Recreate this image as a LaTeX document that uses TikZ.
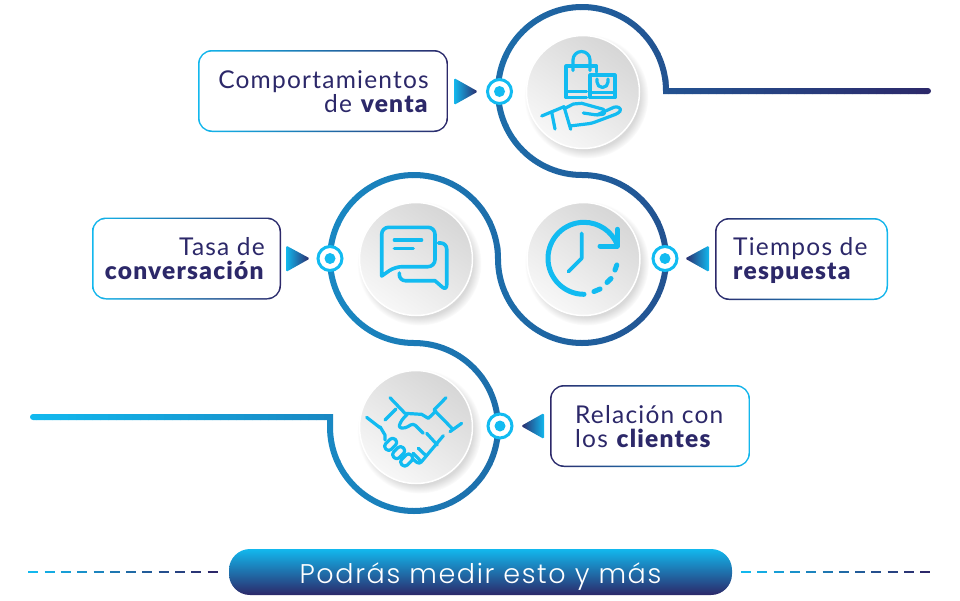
\documentclass[tikz,border=0pt]{standalone}
\usepackage{fontspec}
\usetikzlibrary{shadows}
\setmainfont{Lato}
\newfontfamily\pillfont{Poppins Light}[LetterSpace=6]
\newfontfamily\boxfont{Lato}[LetterSpace=5,BoldFont={Lato Black}]
\definecolor{snakeA}{HTML}{12B8EE}
\definecolor{snakeB}{HTML}{1D6CA9}
\definecolor{snakeC}{HTML}{2C2869}
\definecolor{iconcol}{HTML}{12BBF1}
\tikzset{
  disc/.style={circle,minimum size=113,inner sep=0,draw=white,line width=1.5,
    top color=black!16,bottom color=black!3,shading angle=-35,
    circular drop shadow={shadow xshift=3pt,shadow yshift=-4pt,shadow scale=1.1,opacity=0.3}},
  ring/.style={circle,minimum size=24,inner sep=0,draw=iconcol,line width=3,fill=white},
  dot/.style={circle,minimum size=11,inner sep=0,fill=iconcol},
  boxouter/.style={rectangle,rounded corners=14,inner sep=0,middle color=snakeB},
  boxinner/.style={rectangle,rounded corners=12.5,inner sep=0,fill=white},
  boxtext/.style={inner sep=0,text=snakeC,font=\boxfont\fontsize{24.5}{24}\selectfont},
  icon/.style={draw=iconcol,line width=3.6,line cap=round,line join=round},
  iconthin/.style={icon,line width=3.2},
}
\begin{document}
\begin{tikzpicture}[x=1pt,y=-1pt]
\useasboundingbox (0,0) rectangle (960,600);
% snake line, cut in strips for the colour run
\foreach \sx in {20,28,...,940}{
  \pgfmathsetmacro\mixp{\sx<500 ? max(\sx-30,0)/4.7 : min(\sx-500,430)/4.3}
  \ifnum\sx<500 \colorlet{snakecol}{snakeB!\mixp!snakeA}\else \colorlet{snakecol}{snakeC!\mixp!snakeB}\fi
  \begin{scope}
    \clip (\sx,0) rectangle (\sx+8.4,600);
    \draw[snakecol,line width=6,line cap=round]
      (928,91) -- (666,91) arc (0:-270:84) arc (-90:180:84)
      arc (0:-270:84) arc (-90:180:84) -- (330,417) -- (33,417);
  \end{scope}
}
% discs
\node[disc] (discBag) at (583,92) {};
\node[disc] (discClock) at (583.5,259) {};
\node[disc] (discChat) at (416,259) {};
\node[disc] (discHands) at (416,427) {};
% markers
\foreach \mname/\mx/\my in {markBag/499.5/91.5,markChat/330/258.5,markClock/665/258.5,markHands/500/426}{
  \node[ring] (\mname) at (\mx,\my) {};
  \node[dot] at (\mname) {};
}
% triangles
\shade[left color=snakeA,middle color=snakeB,right color=snakeC,rounded corners=1.5] (454,78) -- (478,91.5) -- (454,105) -- cycle;
\shade[left color=snakeA,middle color=snakeB,right color=snakeC,rounded corners=1.5] (286,245.5) -- (310,258.5) -- (286,272) -- cycle;
\shade[left color=snakeC,middle color=snakeB,right color=snakeA,rounded corners=1.5] (709,245.5) -- (685,258.5) -- (709,272) -- cycle;
\shade[left color=snakeC,middle color=snakeB,right color=snakeA,rounded corners=1.5] (544,413) -- (521,426) -- (544,439) -- cycle;
% boxes
\node[boxouter,minimum width=250,minimum height=82,left color=snakeA,right color=snakeC] (boxVenta) at (323,91) {};
\node[boxinner,minimum width=247,minimum height=79] at (boxVenta) {};
\node[boxtext,align=right,anchor=east] (txtVenta) at (429,92) {Comportamientos\\de \textbf{venta}};
\node[boxouter,minimum width=189,minimum height=82,left color=snakeA,right color=snakeC] (boxTasa) at (186.5,258.5) {};
\node[boxinner,minimum width=186,minimum height=79] at (boxTasa) {};
\node[boxtext,align=right,anchor=east] (txtTasa) at (265,259) {Tasa de\\\textbf{conversación}};
\node[boxouter,minimum width=173,minimum height=82,left color=snakeC,right color=snakeA] (boxTiempos) at (801.5,259) {};
\node[boxinner,minimum width=170,minimum height=79] at (boxTiempos) {};
\node[boxtext,align=left,anchor=west] (txtTiempos) at (733,260.5) {Tiempos de\\\textbf{respuesta}};
\node[boxouter,minimum width=200,minimum height=82,left color=snakeC,right color=snakeA] (boxRelacion) at (650,426) {};
\node[boxinner,minimum width=197,minimum height=79] at (boxRelacion) {};
\node[boxtext,align=left,anchor=west] (txtRelacion) at (575,426.5) {Relación con\\los \textbf{clientes}};
% bottom bar
\node[rectangle,rounded corners=21,minimum width=503,minimum height=46,inner sep=0,
  top color=snakeA,middle color=snakeB,bottom color=snakeC,text=white,text height=22,text depth=0,
  font=\pillfont\fontsize{27}{27}\selectfont] (barMedir) at (480.5,572) {Podrás medir esto y más};
\foreach \n in {0,...,11}{
  \pgfmathsetmacro\mixp{100*\n/11}
  \colorlet{dashcol}{snakeC!\mixp!snakeA}
  \draw[dashcol,line width=1.5] (28.3+16.3*\n,572) -- ++(10,0);
  \draw[dashcol,line width=1.5] (741+16.3*\n,572) -- ++(10,0);
}
% bag icon
\draw[iconthin] (586.5,97.5) -- (566,97.5) -- (566,66) -- (596.5,66) -- (596.5,72);
\draw[iconthin] (566,91.5) -- (586.5,91.5);
\draw[iconthin] (573,70.5) -- (573,60) arc (180:360:8.5) -- (590,70.5);
\draw[iconthin] (590,75) rectangle (615,97.5);
\draw[iconthin] (590,92.5) -- (615,92.5);
\draw[iconthin] (597,79) -- (597,82) arc (180:0:5.5) -- (608,79);
% hand icon
\draw[iconthin] (541.7,116) -- (564,106.7) -- (570.7,129.3);
\draw[iconthin] (551.7,112.3) -- (555,129);
\draw[iconthin] (565,108.3) -- (573.3,104) -- (581.7,103.3) -- (603.3,109.3) [rounded corners=2] -- (605,114) -- (596.7,115) -- (583.3,113);
\draw[iconthin,rounded corners=3] (596.7,115) -- (616.7,106) -- (621.7,109.3) -- (618.3,113.3) -- (591.7,123.3) -- (570,126);
% chat icon
\draw[icon,rounded corners=7] (381.7,276) -- (381.7,227.3) -- (435,227.3) -- (435,266.7) -- (395,266.7) [sharp corners] -- cycle;
\draw[iconthin] (394.3,240) -- (421.7,240);
\draw[iconthin] (394.3,248.3) -- (413.3,248.3);
\draw[icon,rounded corners=6] (438.3,243) -- (446.7,243) -- (446.7,291) [sharp corners] -- (435,280.7) [rounded corners=6] -- (399.3,280.7) -- (399.3,273);
% clock icon
\draw[icon,line width=5] (584,294.3) arc (90:338:36);
\draw[icon,line width=5] (617.3,229.3) -- (617.3,246) -- (600,246);
\draw[icon,line width=5] (594,291.5) -- (600,289);
\draw[icon,line width=5] (607,282.5) -- (611,278.5);
\draw[icon,line width=5] (615,270) -- (616.8,265);
\draw[icon] (581.7,233.3) -- (581.7,258.3) -- (568.3,271.7);
% handshake icon
\begin{scope}[shift={(360,385)},x=0.3333pt,y=-0.3333pt]
\draw[iconthin] (90,38) -- (135,85) -- (185,88) -- (205,100) -- (228,78);
\draw[iconthin] (108,72) -- (75,105);
\draw[iconthin] (20,97) -- (60,128);
\draw[iconthin] (60,125) -- (75,150) -- (75,165);
\draw[iconthin] (258,38) -- (222,75) -- (278,132);
\draw[iconthin] (305,115) -- (270,140);
\draw[iconthin,rounded corners=3] (190,145) -- (160,115) -- (135,130) -- (115,128) -- (125,105) -- (142,88);
\draw[iconthin] (200,145) -- (232,180);
\draw[iconthin,rounded corners=3] (250,152) -- (178,238) -- (158,222);
\draw[iconthin] (175,190) -- (198,212);
\draw[iconthin] (160,205) -- (182,228);
\foreach \cx/\cy in {92/178,116/203,140/225}{
  \draw[iconthin,rounded corners=3.5,rotate around={-45:(\cx,\cy)}] (\cx-12,\cy-20) rectangle (\cx+12,\cy+20);
}
\end{scope}
\end{tikzpicture}
\end{document}
